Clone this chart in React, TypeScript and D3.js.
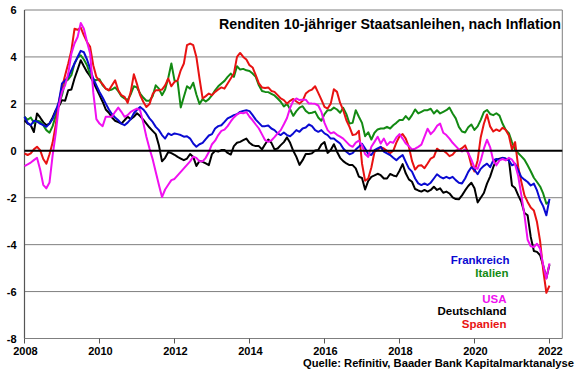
import React from 'react';
import * as d3 from 'd3';

const yearLabels = [2008, 2010, 2012, 2014, 2016, 2018, 2020, 2022];
const yTicks = [6, 4, 2, 0, -2, -4, -6, -8];

// monthly values, Jan 2008 .. Jan 2022
const frankreich = [
  1.45, 1.19, 1.09, 1.28, 1.25, 1.16, 1.09, 1.02, 1.16, 1.36, 1.70, 2.09,
  2.87, 3.00, 3.15, 3.43, 3.72, 4.00, 4.26, 4.20, 3.89, 3.50, 3.08, 2.79,
  2.51, 2.27, 2.01, 1.76, 1.56, 1.42, 1.30, 1.16, 1.09, 1.20, 1.35, 1.60,
  1.75, 1.87, 1.76, 1.59, 1.38, 1.23, 1.02, 0.88, 0.67, 0.52, 0.74, 0.67,
  0.74, 0.71, 0.67, 0.60, 0.62, 0.52, 0.31, 0.17, 0.28, 0.34, 0.50, 0.65,
  0.71, 0.95, 1.05, 1.09, 1.23, 1.38, 1.45, 1.52, 1.56, 1.66, 1.70, 1.73,
  1.69, 1.52, 1.33, 1.19, 1.05, 1.05, 1.08, 0.95, 0.88, 0.74, 0.67, 0.78,
  0.67, 0.62, 0.74, 0.88, 0.81, 0.95, 0.99, 1.12, 1.05, 0.88, 0.81, 0.88,
  0.74, 0.67, 0.52, 0.52, 0.41, 0.31, 0.10, -0.04, -0.15, -0.10, 0.05, 0.17,
  0.30, 0.10, -0.14, -0.18, 0.03, 0.10, 0.17, -0.04, -0.11, -0.18, -0.30, -0.40,
  -0.28, -0.18, -0.47, -0.75, -0.89, -1.18, -1.39, -1.46, -1.39, -1.46, -1.36, -1.18,
  -1.00, -1.11, -1.18, -1.11, -1.18, -1.11, -1.25, -1.36, -1.39, -1.18, -0.90, -0.70,
  -0.81, -1.00, -0.77, -0.64, -0.55, -0.70, -0.41, -0.35, -0.38, -0.30, -0.34, -0.41,
  -0.62, -0.55, -0.84, -1.12, -1.23, -1.33, -1.48, -1.40, -1.69, -2.11, -2.37, -2.75,
  -2.05,
];

const italien = [
  1.45, 1.32, 1.42, 1.19, 1.28, 1.25, 1.09, 0.88, 0.77, 1.05, 1.50, 1.99,
  2.37, 2.94, 3.04, 3.22, 3.72, 3.97, 4.07, 3.89, 3.65, 3.25, 3.04, 3.01,
  3.05, 2.79, 2.65, 2.58, 2.61, 2.70, 2.54, 2.33, 2.23, 2.16, 2.41, 2.75,
  2.70, 2.44, 2.27, 2.13, 2.13, 2.33, 2.79, 2.65, 2.37, 2.61, 3.10, 3.72,
  3.00, 2.95, 1.85, 2.30, 2.75, 2.65, 2.90, 2.40, 2.00, 2.20, 2.10, 2.20,
  2.37, 2.58, 2.75, 2.87, 2.98, 3.15, 3.29, 3.15, 3.60, 3.46, 3.49, 3.43,
  3.40, 3.29, 3.15, 2.79, 2.55, 2.51, 2.50, 2.43, 2.36, 2.23, 2.09, 1.89,
  2.00, 1.77, 1.49, 1.69, 1.84, 1.90, 1.70, 1.60, 1.62, 1.67, 1.42, 1.28,
  1.56, 1.73, 1.73, 1.84, 1.76, 1.62, 1.83, 1.56, 1.16, 1.19, 1.73, 1.45,
  1.19, 0.62, 0.79, 0.48, 0.77, 0.91, 0.95, 0.95, 1.02, 0.95, 1.09, 1.19,
  1.31, 1.31, 1.48, 1.33, 1.52, 1.76, 1.59, 1.66, 1.73, 1.73, 1.79, 1.59,
  1.73, 1.59, 1.66, 1.73, 1.84, 1.59, 1.38, 1.02, 0.82, 0.78, 1.00, 1.12,
  0.89, 1.04, 1.32, 1.65, 1.74, 1.57, 1.52, 1.60, 1.50, 1.15, 0.89, 0.75,
  0.37, 0.04, -0.10, -0.24, -0.38, -0.62, -0.87, -1.15, -1.33, -1.52, -1.83, -2.26,
  -2.15,
];

const spanien = [
  -0.11, -0.18, -0.11, 0.06, 0.17, 0.03, -0.35, -0.55, -0.15, 0.35, 1.10, 2.10,
  2.70, 3.22, 3.72, 4.28, 5.20, 5.16, 5.25, 4.92, 4.64, 4.43, 3.65, 3.15,
  2.98, 2.84, 2.65, 2.58, 2.79, 3.00, 2.58, 2.37, 2.30, 2.04, 2.51, 3.26,
  2.84, 2.37, 2.09, 1.87, 1.99, 2.41, 2.58, 2.58, 2.61, 2.79, 3.08, 2.75,
  2.94, 3.00, 3.43, 3.72, 4.50, 4.57, 4.50, 4.00, 3.08, 2.23, 2.33, 2.44,
  2.37, 2.51, 2.61, 2.70, 2.65, 2.87, 3.08, 3.29, 4.00, 4.17, 4.00, 3.89,
  3.65, 3.55, 3.22, 2.87, 2.70, 2.68, 2.70, 2.55, 2.51, 2.37, 2.23, 2.16,
  2.01, 2.13, 2.21, 2.10, 2.01, 2.13, 2.44, 2.55, 2.61, 2.75, 2.47, 2.18,
  1.87, 1.80, 2.01, 2.62, 2.51, 2.04, 1.73, 1.30, 1.02, 0.67, 0.70, 0.85,
  -0.54, -1.28, -1.18, -0.71, -0.05, 0.05, 0.15, 0.10, 0.00, -0.10, 0.00, 0.35,
  0.62, 0.71, 0.52, 0.17, -0.43, -0.80, -0.64, -0.62, -0.74, -0.54, -0.33, -0.26,
  0.09, -0.01, 0.01, -0.09, -0.23, -0.16, 0.00, 0.03, 0.11, 0.23, -0.10, -0.62,
  -0.88, -0.41, 0.58, 1.15, 1.55, 1.04, 0.82, 0.91, 0.84, 0.98, 0.89, 0.65,
  0.05, 0.37, -0.70, -1.33, -1.90, -2.18, -2.42, -2.54, -3.04, -3.85, -5.10, -6.05,
  -5.75,
];

const usa = [
  -0.65, -0.58, -0.50, -0.40, -0.30, -0.80, -1.45, -1.60, -1.35, -0.20, 0.75, 1.94,
  2.51, 2.79, 3.29, 4.14, 4.57, 4.85, 5.45, 5.20, 4.65, 4.15, 2.50, 1.35,
  1.16, 1.05, 1.45, 1.45, 1.45, 1.66, 1.84, 1.66, 1.45, 1.52, 1.66, 1.73,
  1.80, 1.73, 1.20, 0.60, 0.10, -0.35, -0.90, -1.45, -1.97, -1.65, -1.45, -1.25,
  -1.20, -1.05, -0.90, -0.75, -0.60, -0.45, -0.25, -0.30, -0.45, -0.45, -0.30, -0.05,
  0.28, 0.43, 0.67, 0.85, 0.90, 1.05, 1.25, 1.42, 1.55, 1.62, 1.60, 1.65,
  1.45, 1.30, 1.12, 0.95, 0.70, 0.45, 0.38, 0.44, 0.58, 0.74, 0.88, 1.13,
  1.40, 1.83, 2.13, 2.23, 2.16, 2.18, 2.18, 2.01, 2.01, 2.00, 1.93, 1.66,
  1.19, 0.88, 0.74, 0.79, 0.68, 0.60, 0.52, 0.38, 0.24, 0.17, 0.35, 0.43,
  0.24, -0.14, -0.26, 0.17, 0.38, 0.60, 0.31, 0.52, 0.24, 0.38, 0.34, 0.57,
  0.71, 0.52, 0.31, 0.20, 0.06, 0.09, 0.17, 0.26, 0.60, 0.94, 0.71, 0.85,
  1.06, 1.16, 0.77, 0.67, 0.52, 0.34, 0.20, 0.06, -0.03, 0.06, -0.09, -0.38,
  -0.72, -0.77, -0.41, 0.09, 0.47, 0.16, -0.41, -0.62, -0.41, -0.35, -0.41, -0.30,
  -0.38, -0.58, -1.09, -1.90, -2.75, -3.79, -4.07, -4.10, -3.96, -4.17, -4.88, -5.45,
  -4.80,
];

const deutschland = [
  1.30, 1.16, 1.09, 0.80, 1.59, 1.42, 1.22, 1.09, 1.16, 1.42, 1.73, 1.90,
  2.16, 2.13, 2.58, 2.61, 3.08, 3.46, 3.86, 3.60, 3.36, 3.18, 2.94, 2.65,
  2.37, 2.09, 1.76, 1.62, 1.42, 1.28, 1.22, 1.16, 1.30, 1.45, 1.35, 1.45,
  1.60, 1.48, 1.33, 1.16, 0.99, 0.85, 0.71, 0.24, -0.45, -0.30, -0.05, -0.10,
  -0.17, -0.26, -0.33, -0.40, -0.33, -0.14, -0.26, -0.65, -0.43, -0.47, -0.54, -0.61,
  -0.14, 0.00, -0.03, 0.03, 0.03, -0.09, -0.16, 0.20, 0.34, 0.38, 0.45, 0.52,
  0.34, 0.24, 0.20, 0.20, 0.06, 0.28, 0.48, 0.34, 0.06, 0.10, 0.24, 0.37,
  0.57, 0.34, 0.00, -0.26, -0.60, -0.40, -0.14, -0.14, -0.11, 0.01, 0.03, 0.27,
  0.37, -0.09, 0.03, 0.28, -0.04, -0.30, -0.44, -0.54, -0.61, -0.61, -0.75, -1.10,
  -1.16, -1.65, -1.28, -1.11, -1.05, -0.98, -1.04, -1.18, -1.18, -0.99, -1.05, -1.09,
  -0.85, -0.57, -0.96, -1.22, -1.32, -1.63, -1.69, -1.74, -1.67, -1.74, -1.67, -1.53,
  -1.67, -1.60, -1.79, -1.74, -1.82, -1.99, -2.06, -2.07, -1.90, -1.69, -1.50, -1.36,
  -1.60, -2.20, -2.00, -1.80, -1.40, -1.10, -0.70, -0.38, -0.34, -0.31, -0.34, -0.38,
  -1.48, -1.59, -1.90, -2.18, -2.65, -2.75, -3.67, -4.27, -4.31, -4.45, -4.90, -5.42,
  -4.85,
];

const seriesNames = ['Deutschland', 'Italien', 'Spanien', 'Frankreich', 'USA'];
const seriesData = [deutschland, italien, spanien, frankreich, usa];
const seriesColors = ['#000000', '#138a13', '#e81212', '#0a0ad2', '#f010f0'];

const legendOrder = ['Frankreich', 'Italien', 'USA', 'Deutschland', 'Spanien'];

const FONT = "'Liberation Sans', Arial, Helvetica, sans-serif";

export default function App() {
  const x = d3.scaleLinear().domain([0, 172.1]).range([24.5, 562.3]);
  const y = d3.scaleLinear().domain([-8, 6]).range([338.5, 10]);
  const line = d3
    .line<number>()
    .x((_, i) => x(i))
    .y((d) => y(d))
    .curve(d3.curveLinear);

  const colorOf = (n: string) => seriesColors[seriesNames.indexOf(n)];
  const legendPos: Record<string, { x: number; y: number }> = {
    Frankreich: { x: 509.5, y: 264 },
    Italien: { x: 508.5, y: 276.5 },
    USA: { x: 506.5, y: 302.5 },
    Deutschland: { x: 506.5, y: 315 },
    Spanien: { x: 506.5, y: 327.5 },
  };

  const x0 = x(0);
  const x1 = x(172.1);

  return (
    <svg
      width={580}
      height={375}
      style={{ position: 'absolute', left: 0, top: 0, background: '#fff' }}
      fontFamily={FONT}
      fontWeight="bold"
    >
      <rect x={0} y={0} width={580} height={375} fill="#fff" />
      {/* grid */}
      {yTicks.map((t) =>
        t === 0 ? null : (
          <line key={t} x1={x0} x2={x1} y1={y(t)} y2={y(t)} stroke="#7f7f7f" strokeWidth={1} />
        )
      )}
      <line x1={x1} x2={x1} y1={y(6)} y2={y(-8)} stroke="#7f7f7f" strokeWidth={1} />
      {/* x ticks */}
      {yearLabels.map((yr, i) => (
        <line key={yr} x1={x(i * 24)} x2={x(i * 24)} y1={y(-8)} y2={y(-8) + 5} stroke="#555" strokeWidth={1} />
      ))}
      <line x1={x0} x2={x0} y1={y(6)} y2={y(-8)} stroke="#555" strokeWidth={1.2} />
      {/* series */}
      {seriesData.map((d, i) => (
        <path
          key={seriesNames[i]}
          d={line(d) || ''}
          fill="none"
          stroke={seriesColors[i]}
          strokeWidth={2}
          strokeLinejoin="round"
        />
      ))}
      <line x1={x0} x2={x1} y1={y(0)} y2={y(0)} stroke="#000" strokeWidth={2} />
      {/* y labels */}
      {yTicks.map((t) => (
        <text key={t} x={16.5} y={y(t) + 4} textAnchor="end" fontSize={11} fill="#000">
          {t}
        </text>
      ))}
      {/* x labels */}
      {yearLabels.map((yr, i) => (
        <text key={yr} x={x(i * 24) + 1} y={355} textAnchor="middle" fontSize={11} fill="#000">
          {yr}
        </text>
      ))}
      {/* title */}
      <text x={561} y={29.3} textAnchor="end" fontSize={14} textLength={342} lengthAdjust="spacingAndGlyphs" fill="#000">
        Renditen 10-jähriger Staatsanleihen, nach Inflation
      </text>
      {/* legend */}
      {legendOrder.map((n) => (
        <text key={n} x={legendPos[n].x} y={legendPos[n].y} textAnchor="end" fontSize={11.5} fill={colorOf(n)}>
          {n}
        </text>
      ))}
      {/* source */}
      <text x={574} y={366.7} textAnchor="end" fontSize={11} textLength={271} lengthAdjust="spacingAndGlyphs" fill="#000">
        Quelle: Refinitiv, Baader Bank Kapitalmarktanalyse
      </text>
    </svg>
  );
}
